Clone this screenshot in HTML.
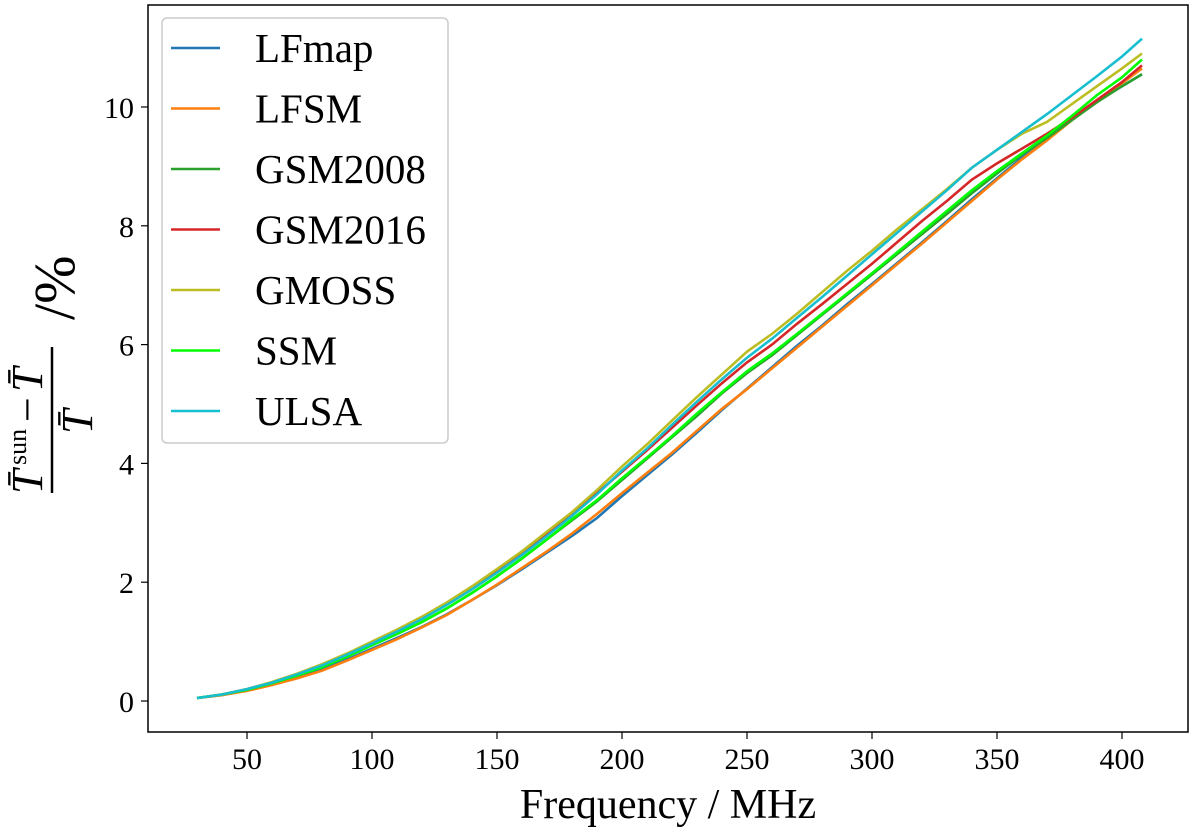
<!DOCTYPE html>
<html><head><meta charset="utf-8"><style>
html,body{margin:0;padding:0;background:#fff;}
svg{display:block;font-family:"Liberation Serif",serif;}
</style></head><body>
<svg id="chart" width="1200" height="838" viewBox="0 0 1200 838">
<rect x="148" y="5" width="1040" height="727" fill="#fff" stroke="#000" stroke-width="1.5"/>
<g id="ticks"></g>
<g id="lines"></g>
<text x="668" y="818" font-size="42" text-anchor="middle">Frequency / MHz</text>
<g font-style="italic">
  <g transform="translate(42,420) rotate(-90)">
    <text x="-74" y="0" font-size="44" font-style="italic">T̄</text>
    <text x="-45" y="-16" font-size="26" font-style="normal">sun</text>
    <text x="-2" y="0" font-size="44" font-style="normal">−</text>
    <text x="28" y="0" font-size="44">T̄</text>
    <line x1="-73" y1="10" x2="73" y2="10" stroke="#000" stroke-width="2.5"/>
    <text x="-14" y="50" font-size="44">T̄</text>
    <text x="100" y="32" font-size="58" font-style="normal">/%</text>
  </g>
</g>
<g>
  <rect x="162" y="18" width="286" height="425" rx="5" fill="#fff" stroke="#ccc" stroke-width="1.5"/>
  <g id="legend"></g>
</g>
</svg>
<script>
const freqs=[30,40,50,60,70,80,90,100,110,120,130,140,150,160,170,180,190,200,210,220,230,240,250,260,270,280,290,300,310,320,330,340,350,360,370,380,390,400,408];
const seriesNames=["LFmap","LFSM","GSM2008","GSM2016","GMOSS","SSM","ULSA"];
const seriesColors=["#1f77b4","#ff7f0e","#2ca02c","#d62728","#bcbd22","#00ff00","#17becf"];
const lfmap=[0.05,0.1,0.18,0.28,0.4,0.53,0.7,0.88,1.06,1.25,1.46,1.7,1.95,2.22,2.5,2.78,3.08,3.45,3.8,4.15,4.52,4.9,5.26,5.62,5.98,6.32,6.68,7.02,7.37,7.72,8.08,8.45,8.8,9.15,9.48,9.8,10.1,10.35,10.55];
const lfsm=[0.05,0.1,0.17,0.27,0.38,0.51,0.68,0.86,1.04,1.24,1.45,1.7,1.96,2.24,2.52,2.82,3.15,3.5,3.84,4.18,4.55,4.92,5.25,5.6,5.95,6.3,6.65,7.0,7.35,7.7,8.06,8.42,8.78,9.12,9.44,9.78,10.1,10.4,10.65];
const gsm2008=[0.05,0.11,0.19,0.3,0.43,0.57,0.75,0.94,1.13,1.33,1.56,1.82,2.1,2.4,2.72,3.04,3.36,3.72,4.08,4.44,4.8,5.18,5.52,5.82,6.16,6.5,6.84,7.18,7.52,7.86,8.2,8.55,8.88,9.2,9.48,9.78,10.08,10.35,10.55];
const gsm2016=[0.05,0.11,0.2,0.31,0.45,0.6,0.78,0.98,1.18,1.39,1.63,1.9,2.19,2.5,2.82,3.15,3.5,3.86,4.22,4.6,4.98,5.35,5.7,6.0,6.35,6.68,7.02,7.36,7.72,8.08,8.42,8.78,9.05,9.3,9.55,9.82,10.12,10.42,10.7];
const gmoss=[0.05,0.11,0.2,0.32,0.46,0.62,0.8,1.0,1.2,1.42,1.66,1.93,2.22,2.52,2.85,3.18,3.55,3.95,4.32,4.72,5.12,5.5,5.88,6.18,6.52,6.88,7.24,7.58,7.94,8.28,8.62,8.98,9.28,9.55,9.75,10.05,10.35,10.65,10.9];
const ssm=[0.05,0.11,0.19,0.3,0.43,0.57,0.75,0.94,1.13,1.33,1.56,1.82,2.1,2.4,2.72,3.06,3.38,3.75,4.1,4.46,4.84,5.2,5.55,5.85,6.18,6.52,6.86,7.2,7.55,7.9,8.25,8.6,8.92,9.22,9.52,9.85,10.2,10.5,10.8];
const ulsa=[0.05,0.11,0.2,0.31,0.45,0.6,0.78,0.97,1.17,1.38,1.62,1.88,2.16,2.46,2.78,3.12,3.48,3.88,4.25,4.65,5.04,5.42,5.78,6.1,6.45,6.8,7.16,7.52,7.88,8.24,8.6,8.98,9.28,9.58,9.88,10.2,10.52,10.85,11.15];
const seriesData=[lfmap,lfsm,gsm2008,gsm2016,gmoss,ssm,ulsa];
const xTicks=[50,100,150,200,250,300,350,400];
const yTicks=[0,2,4,6,8,10];
const NS="http://www.w3.org/2000/svg";
function xs(v){return 247+(v-50)*2.5;}
function ys(v){return 701-v*59.4;}
const tg=document.getElementById('ticks');
xTicks.forEach(t=>{
  const l=document.createElementNS(NS,'line');
  l.setAttribute('x1',xs(t));l.setAttribute('x2',xs(t));l.setAttribute('y1',732);l.setAttribute('y2',739);
  l.setAttribute('stroke','#000');l.setAttribute('stroke-width','1.2');
  
  
  tg.appendChild(l);
  const tx=document.createElementNS(NS,'text');
  tx.setAttribute('x',xs(t));tx.setAttribute('y',769);tx.setAttribute('font-size','30');tx.setAttribute('text-anchor','middle');
  tx.textContent=t;
  
  
  tg.appendChild(tx);
});
yTicks.forEach(t=>{
  const l=document.createElementNS(NS,'line');
  l.setAttribute('x1',141);l.setAttribute('x2',148);l.setAttribute('y1',ys(t));l.setAttribute('y2',ys(t));
  l.setAttribute('stroke','#000');l.setAttribute('stroke-width','1.2');
  
  
  tg.appendChild(l);
  const tx=document.createElementNS(NS,'text');
  tx.setAttribute('x',134);tx.setAttribute('y',ys(t)+11);tx.setAttribute('font-size','30');tx.setAttribute('text-anchor','end');
  tx.textContent=t;
  
  
  tg.appendChild(tx);
});
const lg=document.getElementById('lines');
const leg=document.getElementById('legend');
seriesData.forEach((d,i)=>{
  const p=document.createElementNS(NS,'polyline');
  p.setAttribute('points',d.map((v,j)=>xs(freqs[j]).toFixed(1)+','+ys(v).toFixed(1)).join(' '));
  p.setAttribute('fill','none');p.setAttribute('stroke',seriesColors[i]);p.setAttribute('stroke-width','2.6');
  
  
  lg.appendChild(p);
  const y=48+i*60.5;
  const l=document.createElementNS(NS,'line');
  l.setAttribute('x1',171);l.setAttribute('x2',220);l.setAttribute('y1',y);l.setAttribute('y2',y);
  l.setAttribute('stroke',seriesColors[i]);l.setAttribute('stroke-width','2.6');
  
  
  leg.appendChild(l);
  const t=document.createElementNS(NS,'text');
  t.setAttribute('x',255);t.setAttribute('y',y+14);t.setAttribute('font-size','41');
  t.textContent=seriesNames[i];
  
  
  leg.appendChild(t);
});
</script>
</body></html>
